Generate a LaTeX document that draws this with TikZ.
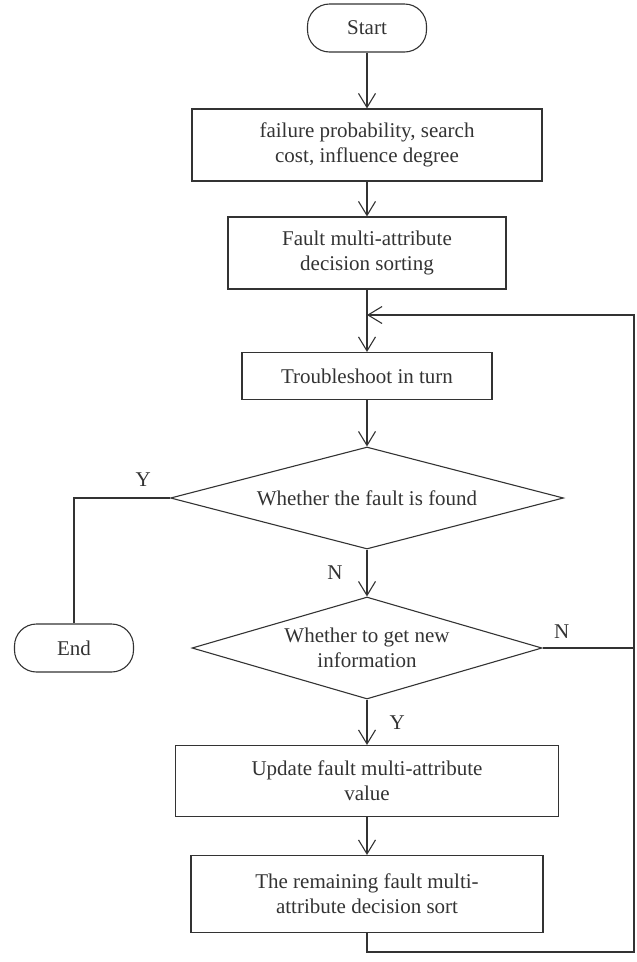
\documentclass[tikz,border=0pt]{standalone}
\usepackage{fontspec}
\setmainfont{Liberation Serif}
\usepackage{tikz}
\usetikzlibrary{shapes.geometric, arrows.meta}

\begin{document}
\begin{tikzpicture}[
    x=1pt, y=-1pt,
    font=\fontsize{21}{25}\selectfont,
    color=black!80,
    line width=1.1pt,
    terminal/.style={draw, rounded corners=22pt, minimum width=119pt, minimum height=48pt, inner sep=0pt},
    process/.style={draw, align=center, minimum height=72pt, inner sep=0pt},
    decision/.style={draw, diamond, align=center, inner sep=0pt, minimum height=102pt},
    msg/.style={-{Straight Barb[length=14pt, width=17pt]}},
    lbl/.style={inner sep=0pt}
]
\useasboundingbox (0,0) rectangle (637,962);

% 1. Main column
\node[terminal] (start) at (367,28) {Start};
\node[process, minimum width=350pt] (factors) at (367,145) {failure probability, search\\cost, influence degree};
\node[process, minimum width=278pt] (sorting) at (367,253) {Fault multi-attribute\\decision sorting};
\node[process, minimum width=250pt, minimum height=47pt] (trouble) at (367,376) {Troubleshoot in turn};
\node[decision, aspect=3.85, minimum width=393pt] (found) at (367,498) {Whether the fault is found};
\node[decision, aspect=3.4, minimum width=350pt] (newinfo) at (367,648) {Whether to get new\\information};
\node[process, minimum width=383pt, minimum height=71pt] (update) at (367,781) {Update fault multi-attribute\\value};
\node[process, minimum width=352pt, minimum height=77pt] (remain) at (367,894) {The remaining fault multi-\\attribute decision sort};

% 2. End branch
\node[terminal] (end) at (74,648) {End};

% 3. Loop corners
\coordinate (merge) at (367,315);
\coordinate (back) at (634,952);

% 4. Connectors
\draw[msg] (start) -- (factors);
\draw[msg] (factors) -- (sorting);
\draw (sorting) -- (merge);
\draw[msg] (merge) -- (trouble);
\draw[msg] (trouble) -- (found);
\draw (found.west) -| node[lbl, pos=0.14, above=11pt] {Y} (end);
\draw[msg] (found) -- node[lbl, left=24pt] {N} (newinfo);
\draw (newinfo.east) -- node[lbl, pos=0.21, above=9pt] {N} (newinfo.east -| back);
\draw[msg] (newinfo) -- node[lbl, right=22pt] {Y} (update);
\draw[msg] (update) -- (remain);
\draw[msg] (remain) |- (back) |- (merge);

\end{tikzpicture}
\end{document}
